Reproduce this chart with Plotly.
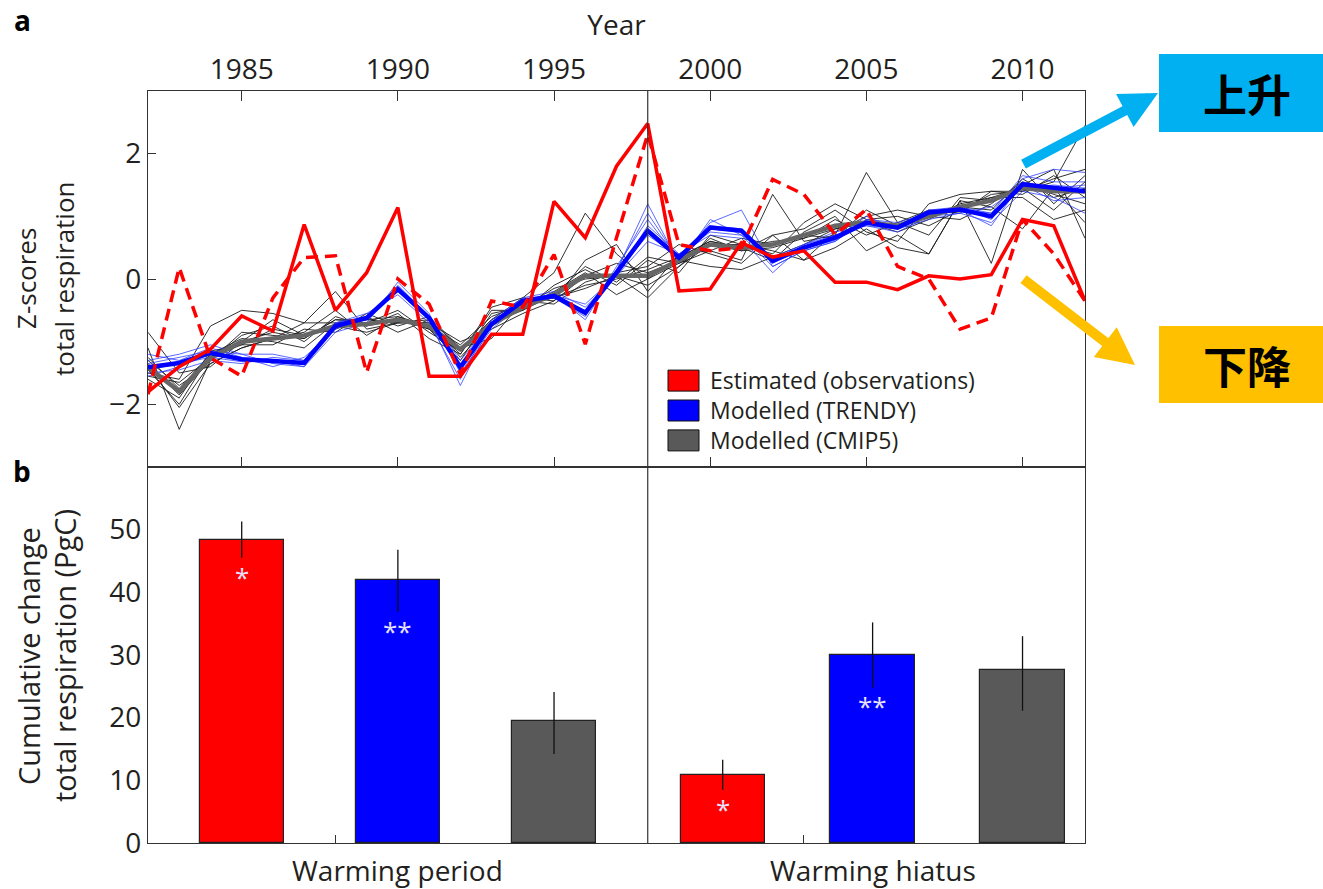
import plotly.graph_objects as go
from plotly.subplots import make_subplots

# ---------------------------------------------------------------- data
years = list(range(1982, 2013))

obs_solid = [-1.80, -1.40, -1.12, -0.59, -0.83, 0.87, -0.50, 0.10, 1.14, -1.55,
             -1.55, -0.88, -0.88, 1.24, 0.66, 1.80, 2.48, -0.19, -0.16, 0.58,
             0.35, 0.45, -0.05, -0.05, -0.17, 0.05, 0.00, 0.07, 0.95, 0.85, -0.35]
obs_dashed = [-1.84, 0.18, -1.26, -1.55, -0.30, 0.34, 0.37, -1.49, 0.00, -0.40,
              -1.52, -0.35, -0.45, 0.39, -1.04, 0.66, 2.31, 0.55, 0.45, 0.50,
              1.59, 1.35, 0.71, 1.11, 0.20, 0.00, -0.80, -0.62, 0.95, 0.40, -0.35]

trendy_mean = [-1.41, -1.34, -1.18, -1.28, -1.31, -1.34, -0.75, -0.62, -0.16, -0.62,
               -1.41, -0.72, -0.35, -0.27, -0.54, 0.10, 0.77, 0.34, 0.82, 0.77,
               0.29, 0.50, 0.66, 0.90, 0.82, 1.06, 1.11, 1.00, 1.51, 1.46, 1.40]
cmip5_mean = [-1.41, -1.79, -1.26, -1.00, -0.95, -0.90, -0.75, -0.72, -0.65, -0.75,
              -1.12, -0.72, -0.45, -0.25, 0.05, 0.05, 0.05, 0.30, 0.55, 0.50,
              0.55, 0.70, 0.85, 0.90, 0.85, 1.00, 1.15, 1.25, 1.45, 1.40, 1.40]

trendy_members = [
    [-1.30, -1.20, -1.05, -1.20, -1.35, -1.40, -0.85, -0.70, -0.05, -0.55, -1.50, -0.80, -0.40, -0.30, -0.60, 0.20,
     0.95, 0.30, 0.90, 1.10, 0.20, 0.45, 0.60, 0.95, 0.85, 1.10, 1.15, 1.05, 1.65, 1.55, 1.55],
    [-1.50, -1.45, -1.30, -1.35, -1.25, -1.30, -0.70, -0.55, -0.25, -0.70, -1.60, -0.65, -0.30, -0.20, -0.45, 0.05,
     0.60, 0.40, 0.75, 0.70, 0.35, 0.55, 0.70, 0.85, 0.75, 1.00, 1.05, 0.90, 1.40, 1.30, 1.05],
    [-1.20, -1.30, -1.10, -1.25, -1.40, -1.25, -0.80, -0.65, -0.10, -0.60, -1.35, -0.75, -0.38, -0.25, -0.65, 0.15,
     1.05, 0.30, 0.85, 0.80, 0.25, 0.50, 0.65, 1.00, 0.80, 1.05, 1.15, 0.95, 1.60, 1.75, 1.70],
    [-1.55, -1.40, -1.20, -1.30, -1.30, -1.40, -0.70, -0.60, -0.20, -0.65, -1.70, -0.70, -0.32, -0.28, -0.50, 0.10,
     0.70, 0.35, 0.80, 0.75, 0.30, 0.48, 0.62, 0.88, 0.85, 1.10, 1.10, 1.05, 1.45, 1.50, 1.45],
    [-1.35, -1.25, -1.15, -1.20, -1.20, -1.30, -0.75, -0.60, -0.20, -0.60, -1.30, -0.70, -0.36, -0.26, -0.40, 0.05,
     0.85, 0.40, 0.70, 0.65, 0.10, 0.55, 0.75, 0.85, 0.80, 0.95, 1.05, 1.15, 1.50, 1.25, 1.30],
    [-1.45, -1.35, -1.25, -1.32, -1.30, -1.35, -0.78, -0.62, -0.15, -0.65, -1.45, -0.70, -0.35, -0.27, -0.55, 0.12,
     1.20, 0.25, 0.95, 0.70, 0.20, 0.45, 0.60, 0.95, 0.90, 1.05, 1.10, 0.85, 1.55, 1.45, 1.50],
]

cmip5_members = [
    [-1.10, -2.40, -1.30, -0.90, -0.75, -1.00, -0.60, -0.75, -0.55, -0.95, -1.20, -0.45, -0.30, 0.10, 1.05, 0.40,
     0.00, 0.25, 0.55, 0.45, 0.70, 0.80, 1.10, 0.75, 0.60, 1.20, 1.35, 1.40, 1.40, 1.55, 2.45],
    [-1.50, -1.60, -0.75, -0.50, -0.55, -0.70, -0.20, -0.80, -0.70, -0.70, -1.00, -0.80, -0.55, -0.35, 0.30, 0.55,
     -0.20, 0.40, 0.45, 0.30, 1.35, 0.60, 0.70, 1.70, 0.90, 0.70, 1.30, 1.25, 1.50, 1.75, 0.65],
    [-0.85, -1.50, -1.40, -1.00, -0.65, -0.90, -0.80, -0.60, -0.85, -0.65, -1.25, -0.70, -0.50, -0.10, 0.15, -0.10,
     0.30, 0.10, 0.70, 0.55, 0.40, 0.90, 1.20, 0.95, 1.00, 0.85, 1.10, 1.30, 1.45, 1.10, 1.55],
    [-1.60, -1.90, -1.15, -1.05, -1.05, -0.80, -0.85, -0.55, -0.75, -0.60, -1.10, -0.95, -0.35, -0.40, -0.05, 0.10,
     0.20, 0.55, 0.40, 0.25, 0.70, 0.30, 0.75, 1.00, 1.10, 1.00, 0.95, 1.20, 1.55, 1.35, 1.20],
    [-1.30, -1.70, -1.35, -1.10, -0.95, -0.85, -0.50, -0.90, -0.60, -0.80, -1.30, -0.55, -0.45, -0.20, 0.10, -0.25,
     0.00, 0.35, 0.60, 0.50, 0.30, 0.75, 1.00, 0.45, 0.70, 0.40, 1.25, 0.25, 1.75, 1.20, 1.65],
    [-1.45, -2.00, -1.20, -0.95, -1.00, -1.10, -0.70, -0.65, -0.60, -0.75, -1.05, -0.60, -0.40, -0.30, -0.15, 0.05,
     -0.30, 0.20, 0.65, 0.45, 0.50, 0.65, 0.95, 0.70, 0.90, 1.10, 1.05, 1.40, 1.35, 1.65, 1.30],
    [-1.35, -1.85, -1.30, -0.85, -0.90, -0.95, -0.65, -0.70, -0.50, -0.85, -1.15, -0.65, -0.30, -0.35, 0.05, 0.25,
     0.10, 0.30, 0.20, 0.15, 0.35, 0.55, 0.80, 0.90, 0.75, 0.95, 1.20, 1.30, 1.30, 0.95, 1.10],
    [-1.55, -1.65, -1.25, -1.05, -0.80, -0.90, -0.75, -0.85, -0.70, -0.70, -1.20, -0.50, -0.50, -0.25, 0.20, -0.05,
     0.35, 0.25, 0.45, 0.65, 0.55, 0.70, 0.65, 1.10, 0.85, 1.00, 1.15, 1.10, 1.60, 1.30, 1.45],
    [-1.25, -1.75, -1.20, -1.00, -0.85, -0.95, -0.65, -0.65, -0.70, -0.65, -1.10, -0.75, -0.45, -0.15, 0.00, 0.05,
     -0.10, 0.20, 0.55, 0.55, 0.45, 0.30, 0.50, 0.80, 0.50, 0.40, 1.25, 1.15, 0.80, 1.45, 0.90],
    [-1.40, -2.05, -1.35, -1.10, -0.95, -0.70, -0.70, -0.75, -0.65, -0.80, -1.15, -0.65, -0.40, -0.30, -0.10, 0.00,
     0.15, 0.35, 0.60, 0.50, 0.60, 0.65, 0.80, 0.90, 0.85, 1.00, 1.10, 1.35, 1.40, 1.60, 1.75],
]

hiatus_start = 1998
year_ticks = [1985, 1990, 1995, 2000, 2005, 2010]
z_ticks = [-2, 0, 2]
change_ticks = [0, 10, 20, 30, 40, 50]

periods = ["Warming period", "Warming hiatus"]
series = ["Estimated (observations)", "Modelled (TRENDY)", "Modelled (CMIP5)"]
cum_change = {
    "Estimated (observations)": [48.4, 10.8],
    "Modelled (TRENDY)": [41.9, 30.0],
    "Modelled (CMIP5)": [19.4, 27.6],
}
err_plus = {
    "Estimated (observations)": [2.9, 2.5],
    "Modelled (TRENDY)": [4.9, 5.2],
    "Modelled (CMIP5)": [4.7, 5.4],
}
err_minus = {
    "Estimated (observations)": [2.9, 2.3],
    "Modelled (TRENDY)": [5.0, 5.2],
    "Modelled (CMIP5)": [5.2, 6.5],
}
significance = {
    "Estimated (observations)": ["*", "*"],
    "Modelled (TRENDY)": ["**", "**"],
    "Modelled (CMIP5)": ["", ""],
}
callouts = ["上升", "下降"]
z_title = ["Z-scores", "total respiration"]
change_title = ["Cumulative change", "total respiration (PgC)"]

# ---------------------------------------------------------------- styles
RED, BLUE, GREY = "#ff0000", "#0000ff", "#595959"
fill = {series[0]: RED, series[1]: BLUE, series[2]: GREY}
INK = "#231f20"
AX = "#333333"
FONT = "Open Sans, Lato, sans-serif"

W, H = 1323, 889
L, R, T, B = 148, 1085, 91, 843


def px(x):
    return (x - L) / (R - L)


def py(y):
    return (B - y) / (B - T)


def paper_text(x, y, text, size, color=INK, family=FONT, **kw):
    opts = dict(x=px(x), y=py(y), xref="paper", yref="paper", text=text, showarrow=False,
                xanchor="center", yanchor="middle", font=dict(family=family, size=size, color=color))
    opts.update(kw)
    return opts


# bar layout along the shared year axis
group_center = {"Warming period": 1990.0, "Warming hiatus": 2005.2}
group_step = {"Warming period": 5.0, "Warming hiatus": 4.8}
bar_width = 2.7

fig = make_subplots(rows=2, cols=1, vertical_spacing=0, row_heights=[0.5, 0.5])

# panel a: individual model runs
for m in cmip5_members:
    fig.add_trace(go.Scatter(x=years, y=m, mode="lines", line=dict(color="#1a1a1a", width=0.9),
                             showlegend=False, hoverinfo="skip"), row=1, col=1)
for m in trendy_members:
    fig.add_trace(go.Scatter(x=years, y=m, mode="lines", line=dict(color="#2a3cff", width=0.9),
                             opacity=0.85, showlegend=False, hoverinfo="skip"), row=1, col=1)
# ensemble means and observations
fig.add_trace(go.Scatter(x=years, y=cmip5_mean, mode="lines", line=dict(color="#666666", width=4.5),
                         showlegend=False), row=1, col=1)
fig.add_trace(go.Scatter(x=years, y=trendy_mean, mode="lines", line=dict(color=BLUE, width=4.5),
                         showlegend=False), row=1, col=1)
fig.add_trace(go.Scatter(x=years, y=obs_dashed, mode="lines",
                         line=dict(color=RED, width=3.5, dash="12px,7px"),
                         showlegend=False), row=1, col=1)
fig.add_trace(go.Scatter(x=years, y=obs_solid, mode="lines", line=dict(color=RED, width=3.5),
                         showlegend=False), row=1, col=1)

# panel b: cumulative change bars
annotations = []
for i, s in enumerate(series):
    xs = [group_center[p] + (i - 1) * group_step[p] for p in periods]
    fig.add_trace(go.Bar(
        x=xs, y=cum_change[s], width=bar_width, showlegend=False,
        marker=dict(color=fill[s], line=dict(color="#222222", width=1.2)),
        error_y=dict(type="data", symmetric=False, array=err_plus[s], arrayminus=err_minus[s],
                     color="#111111", thickness=1.3, width=0),
    ), row=2, col=1)
    for x, v, em, sig in zip(xs, cum_change[s], err_minus[s], significance[s]):
        if sig:
            annotations.append(dict(x=x, y=v - em - 3.0, xref="x2", yref="y2", text=sig,
                                    showarrow=False, xanchor="center", yanchor="middle",
                                    font=dict(family=FONT, size=26, color="#e8e2ff")))

# period labels under panel b
for p in periods:
    annotations.append(dict(x=group_center[p], y=0, xref="x2", yref="paper", text=p, showarrow=False,
                            xanchor="center", yanchor="top", yshift=-6,
                            font=dict(family=FONT, size=28, color=INK)))

# axis titles, one rotated line each
for text, xc in zip(z_title, (26, 64)):
    annotations.append(paper_text(xc, 279, text, 26, textangle=-90))
for text, xc in zip(change_title, (28, 64)):
    annotations.append(paper_text(xc, 656, text, 29, textangle=-90))

# legend: filled squares beside one block of labels
LEG_SIZE = 23
leg_step = 1.3 * LEG_SIZE
leg_mid = 410.5
shapes = []
for i, s in enumerate(series):
    yc = leg_mid + (i - 1) * leg_step
    shapes.append(dict(type="rect", xref="paper", yref="paper", x0=px(668), x1=px(699),
                       y0=py(yc + 10.5), y1=py(yc - 10.5), fillcolor=fill[s],
                       line=dict(color="#111111", width=1)))
annotations.append(paper_text(708, leg_mid, "<br>".join(series), LEG_SIZE, xanchor="left", align="left"))

# divider between the two periods, across both panels
for xr, yr in (("x", "y domain"), ("x2", "y2 domain")):
    shapes.append(dict(type="line", xref=xr, yref=yr, x0=hiatus_start, x1=hiatus_start, y0=0, y1=1,
                       line=dict(color=AX, width=1.2)))

# panel letters
for letter, ypix in (("a", 20), ("b", 471)):
    annotations.append(paper_text(22, ypix, f"<b>{letter}</b>", 28, color="#000000"))

# trend callouts
box = [dict(colour="#00b0f0", top=54, bottom=132, tip=(1158, 93), tail=(1022, 165)),
       dict(colour="#ffc000", top=326, bottom=403, tip=(1135, 365), tail=(1022, 278))]
for label, b in zip(callouts, box):
    shapes.append(dict(type="rect", xref="paper", yref="paper", x0=px(1159), x1=px(1323),
                       y0=py(b["bottom"]), y1=py(b["top"]), fillcolor=b["colour"], line=dict(width=0)))
    annotations.append(paper_text(1247, (b["top"] + b["bottom"]) / 2, f"<b>{label}</b>", 44,
                                  color="#000000", family="Noto Sans CJK SC"))
    annotations.append(dict(x=px(b["tip"][0]), y=py(b["tip"][1]), xref="paper", yref="paper", text="",
                            showarrow=True, ax=b["tail"][0] - b["tip"][0], ay=b["tail"][1] - b["tip"][1],
                            axref="pixel", ayref="pixel", arrowhead=2, arrowsize=0.75, arrowwidth=10,
                            arrowcolor=b["colour"], standoff=0, startstandoff=0))

axis_common = dict(showline=True, linecolor=AX, linewidth=1.3, showgrid=False, zeroline=False,
                   tickcolor=AX, tickwidth=1.2, tickfont=dict(family=FONT, size=28, color=INK))

fig.update_xaxes(row=1, col=1, range=[1982, 2012], side="top", tickvals=year_ticks, ticks="inside",
                 ticklen=10, mirror="ticks",
                 title=dict(text="Year", font=dict(family=FONT, size=28, color=INK), standoff=4),
                 **axis_common)
fig.update_yaxes(row=1, col=1, range=[-3, 3], tickvals=z_ticks,
                 ticktext=[f"{t}".replace("-", "\u2212") for t in z_ticks], ticks="inside", ticklen=8,
                 mirror=True, **axis_common)
fig.update_xaxes(row=2, col=1, range=[1982, 2012], tickvals=[1988, 2003], ticktext=["", ""],
                 ticks="inside", ticklen=8, mirror=True, **axis_common)
fig.update_yaxes(row=2, col=1, range=[0, 60], tickvals=change_ticks, ticks="", mirror=True,
                 **axis_common)

fig.update_layout(
    width=W, height=H,
    margin=dict(l=L, r=W - R, t=T, b=H - B, autoexpand=False),
    plot_bgcolor="white", paper_bgcolor="white",
    font=dict(family=FONT, color=INK),
    showlegend=False, bargap=0,
    shapes=shapes, annotations=annotations,
)

fig.write_html("out.html")
